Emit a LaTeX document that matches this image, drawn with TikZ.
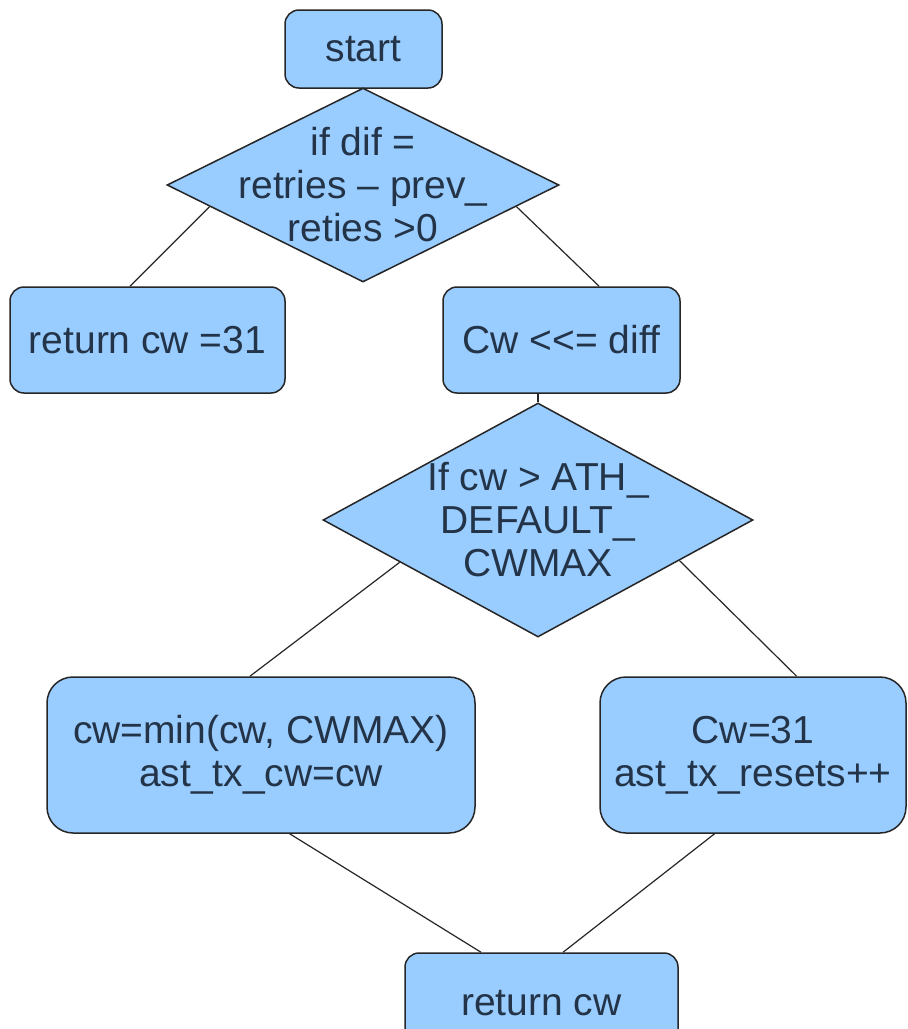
\documentclass[tikz,border=0pt]{standalone}
\usepackage{fontspec}
\setmainfont{Liberation Sans}
\usetikzlibrary{calc, positioning}
\usetikzlibrary{shapes.geometric}

\definecolor{boxblue}{RGB}{153,204,255}
\definecolor{boxtext}{RGB}{36,52,72}

\tikzset{
  flowbox/.style={rectangle, draw=black!85, line width=1.5pt, fill=boxblue,
    rounded corners=14, inner sep=0pt, text=boxtext, align=center,
    font=\fontsize{39}{43}\selectfont},
  bigbox/.style={flowbox, rounded corners=26},
  decision/.style={diamond, draw=black!85, line width=1.5pt, fill=boxblue,
    inner sep=0pt},
  dtext/.style={inner sep=0pt, text=boxtext, align=center,
    font=\fontsize{39}{43}\selectfont},
  link/.style={draw=black!85, line width=1.2pt}
}

\begin{document}
\begin{tikzpicture}[x=1pt,y=-1pt]
\useasboundingbox[fill=white] (0,0) rectangle (908,1029);

% top part
\node[flowbox, minimum width=157, minimum height=78] (start) at (363.5,49) {start};
\node[decision, minimum width=392, minimum height=194] (d1) at (363,185) {};
\node[dtext] (d1txt) at (d1) {if dif =\\retries -- prev\_\\reties >0};

\node[flowbox, minimum width=275, minimum height=106] (ret31) at (147.5,340) {return cw =31};
\node[flowbox, minimum width=237, minimum height=106] (cwdiff) at (561.5,340) {Cw <{}<= diff};

% second test
\node[decision, minimum width=430, minimum height=234] (d2) at (538,520) {};
\node[dtext] (d2txt) at (d2) {If cw > ATH\_\\DEFAULT\_\\CWMAX};

\node[bigbox, minimum width=428, minimum height=156] (cwmin) at (261,755)
  {cw=min(cw, CWMAX)\\ast\_tx\_cw=cw};
\node[bigbox, minimum width=306, minimum height=156] (cw31) at (753,755)
  {Cw=31\\ast\_tx\_resets++};

\node[flowbox, minimum width=273, minimum height=100] (retcw) at (541.5,1003) {return cw};

% connectors
\draw[link] (d1.188) -- (ret31.108);
\draw[link] (d1.352) -- (cwdiff.55);
\draw[link] (cwdiff.south -| d2.north) -- (d2.north);
\draw[link] (d2.197) -- (cwmin.98);
\draw[link] (d2.344) -- (cw31.61);
\draw[link] (cwmin.290) -- (retcw.140);
\draw[link] (cw31.244) -- (retcw.67);
\end{tikzpicture}
\end{document}
